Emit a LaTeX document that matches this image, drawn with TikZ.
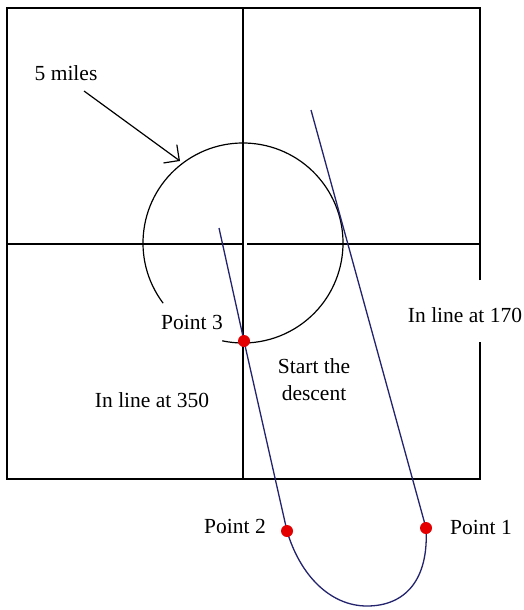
\documentclass[tikz,border=0pt]{standalone}
\usepackage{fontspec}
\setmainfont{Liberation Serif}
\usetikzlibrary{arrows.meta}
\definecolor{navy}{RGB}{35,35,110}
\definecolor{dotred}{RGB}{228,0,0}
\begin{document}
\begin{tikzpicture}[x=1pt,y=1pt,
  frame/.style={line width=1.6pt, black},
  ring/.style={line width=1.2pt, black},
  track/.style={line width=1.3pt, navy},
  dot/.style={circle, fill=dotred, inner sep=0pt, minimum size=12pt},
  lbl/.style={font=\fontsize{21.5}{27}\selectfont, inner sep=0pt, anchor=base}]
\useasboundingbox (0,0) rectangle (524,-610);
\fill[white] (0,0) rectangle (524,-610);
% frame
\coordinate (tl) at (7,-8);
\coordinate (tr) at (480,-8);
\coordinate (br) at (480,-479);
\coordinate (bl) at (7,-479);
\coordinate (gaptop) at (480,-280);
\coordinate (gapbot) at (480,-342);
\draw[frame] (gaptop) -- (tr) -- (tl) -- (bl) -- (br) -- (gapbot);
% cross
\coordinate (vtop) at (243,-8);
\coordinate (vbot) at (243,-479);
\draw[frame] (vtop) -- (vbot);
\coordinate (hleft) at (7,-244);
\coordinate (hlend) at (242,-244);
\coordinate (hrstart) at (247,-244);
\coordinate (hright) at (480,-244);
\draw[frame] (hleft) -- (hlend);
\draw[frame] (hrstart) -- (hright);
% 5 mile circle (open arc)
\coordinate (ctr) at (243,-243);
\draw[ring] (ctr) ++(217:100) arc[start angle=217, end angle=-102, radius=100];
% arrow
\coordinate (atail) at (84,-91);
\coordinate (atip) at (180,-161);
\draw[ring, -{Straight Barb[angle=90:16pt, line width=1.2pt]}] (atail) -- (atip);
% tracks
\coordinate (s350) at (219,-228);
\coordinate (p3) at (244,-341);
\coordinate (p2) at (287,-531);
\coordinate (s170) at (311,-110);
\coordinate (p1) at (426,-528);
\draw[track] (s350) -- (p3) -- (p2)
  .. controls (300,-575) and (330,-606) .. (367,-606)
  .. controls (405,-606) and (429,-580) .. (p1) -- (s170);
% points
\node[dot] (d3) at (p3) {};
\node[dot] (d2) at (p2) {};
\node[dot] (d1) at (p1) {};
% labels
\node[lbl] (miles) at (66,-80) {5 miles};
\node[lbl] (pt3) at (192,-329) {Point 3};
\node[lbl] (start1) at (314,-373) {Start the};
\node[lbl] (start2) at (314,-400) {descent};
\node[lbl] (l350) at (152,-407) {In line at 350};
\node[lbl] (l170) at (465,-322) {In line at 170};
\node[lbl] (pt2) at (235,-533) {Point 2};
\node[lbl] (pt1) at (481,-534) {Point 1};
\end{tikzpicture}
\end{document}
